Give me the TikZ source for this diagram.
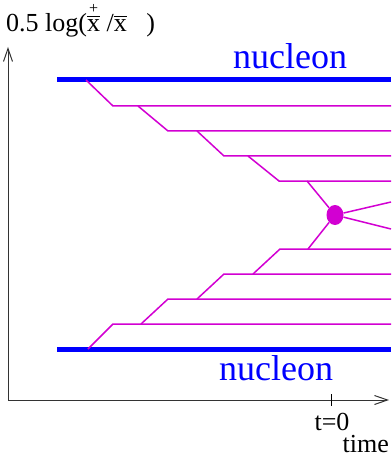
\documentclass[tikz,border=0pt]{standalone}
\usepackage{amsmath}
\usepackage{fontspec}
\setmainfont{Liberation Serif}
\usetikzlibrary{positioning, arrows.meta, calc, shapes.geometric}

\definecolor{gluon}{RGB}{210,0,210}

\begin{document}
\begin{tikzpicture}[
  x=1pt, y=-1pt,
  ax/.style={-{Straight Barb[length=13pt,width=9pt]}, line width=1pt, draw=black!80},
  nucl/.style={line width=5pt, draw=blue},
  nlabel/.style={text=blue, font=\fontsize{36}{36}\selectfont, anchor=base, inner sep=0pt},
  lbl/.style={font=\fontsize{26}{26}\selectfont, anchor=base, inner sep=0pt},
  rung/.style={line width=1.5pt, draw=gluon}
]
\useasboundingbox (0,0) rectangle (391,457);

% --- axes ---
\coordinate (o) at (8,400);
\coordinate (ytop) at (8,47);
\coordinate (xend) at (389,400);
\draw[ax] (o) -- (ytop);
\draw[ax] (o) -- (xend);
\coordinate (tick) at (331,400);
\draw[line width=0.8pt] ($(tick)+(0,-6)$) -- ($(tick)+(0,6)$);
\node[lbl] (t0) at (332,430) {t=0};
\node[lbl, anchor=base east] (time) at (389,452) {time};
\node[lbl, anchor=base west] (ylab) at (6,32)
  {0.5 log({\ooalign{$\overline{\text{x}}$\cr\hfil\raisebox{18pt}{\fontsize{16}{16}\selectfont +}\hfil}} /$\overline{\text{x}}$ \ \ )};

% --- nucleons ---
\coordinate (nt1) at (57,80);  \coordinate (nt2) at (391,80);
\coordinate (nb1) at (57,349); \coordinate (nb2) at (391,349);
\draw[nucl] (nt1) -- (nt2);
\draw[nucl] (nb1) -- (nb2);
\node[nlabel] (ntop) at (290,69) {nucleon};
\node[nlabel] (nbot) at (276,380) {nucleon};

% --- blob ---
\node[ellipse, fill=gluon, minimum width=17pt, minimum height=20pt, inner sep=0pt] (blob) at (335,215) {};

% --- upper ladder ---
\draw[rung] (86,80) -- (113,106) -- (391,106);
\draw[rung] (138,106) -- (168,131) -- (391,131);
\draw[rung] (197,131) -- (224,156) -- (391,156);
\draw[rung] (248,156) -- (279,181) -- (391,181);
\draw[rung] (307,181) -- (blob);

% --- lower ladder ---
\draw[rung] (88,349) -- (113,324) -- (391,324);
\draw[rung] (141,324) -- (168,299) -- (391,299);
\draw[rung] (197,299) -- (224,274) -- (391,274);
\draw[rung] (253,274) -- (280,249) -- (391,249);
\draw[rung] (308,249) -- (blob);

% --- outgoing ---
\coordinate (out1) at (391,202);
\coordinate (out2) at (391,229);
\draw[rung] (blob) -- (out1);
\draw[rung] (blob) -- (out2);

\end{tikzpicture}
\end{document}
